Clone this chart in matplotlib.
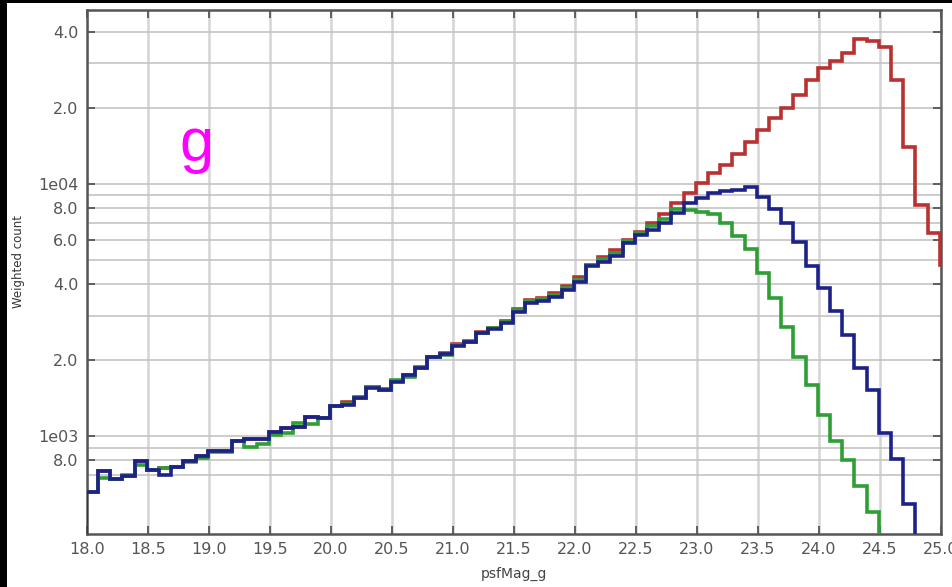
import numpy as np
import matplotlib
matplotlib.use("Agg")
import matplotlib.pyplot as plt
from matplotlib.patches import Rectangle
from matplotlib.ticker import NullFormatter

# weighted counts per 0.1 mag bin, starting at 17.99
red = [601, 727, 673, 696, 798, 733, 747, 751, 798, 835,
       872, 872, 958, 973, 973, 1037, 1073, 1089, 1193, 1182,
       1320, 1367, 1425, 1560, 1530, 1655, 1750, 1870, 2060, 2125,
       2317, 2380, 2580, 2690, 2850, 3180, 3460, 3530, 3680, 3920,
       4250, 4760, 5110, 5460, 5990, 6450, 7000, 7590, 8360, 9210,
       10050, 10990, 11800, 13130, 14650, 16320, 18160, 19890, 22330, 25770,
       28670, 30450, 32850, 37300, 36800, 34600, 25700, 14000, 8240, 6350,
       4760]
green = [601, 680, 675, 700, 768, 733, 747, 755, 790, 818,
         868, 868, 958, 907, 929, 1009, 1030, 1123, 1116, 1175,
         1310, 1340, 1418, 1560, 1521, 1660, 1720, 1855, 2050, 2100,
         2290, 2366, 2555, 2670, 2830, 3150, 3420, 3480, 3610, 3840,
         4150, 4740, 5010, 5310, 5900, 6350, 6780, 7270, 7930, 7870,
         7730, 7590, 7000, 6210, 5500, 4440, 3515, 2713, 2060, 1593,
         1211, 958, 803, 634, 498, 300, 150, 80, 40, 20,
         10]
blue = [601, 727, 673, 696, 798, 733, 700, 751, 798, 835,
        872, 872, 958, 973, 973, 1037, 1073, 1089, 1193, 1182,
        1315, 1327, 1418, 1546, 1521, 1641, 1745, 1855, 2050, 2114,
        2274, 2366, 2555, 2651, 2810, 3111, 3377, 3437, 3566, 3790,
        4090, 4720, 4910, 5170, 5810, 6240, 6550, 6970, 7640, 8360,
        8750, 9200, 9350, 9440, 9680, 8880, 7910, 7000, 5890, 4720,
        3850, 3130, 2510, 1855, 1522, 1025, 811, 536, 300, 150,
        80]

xticks = [18.0, 18.5, 19.0, 19.5, 20.0, 20.5, 21.0, 21.5, 22.0, 22.5,
          23.0, 23.5, 24.0, 24.5, 25.0]
yticks = [800, 1000, 2000, 4000, 6000, 8000, 10000, 20000, 40000]
ylabels = ["8.0", "1e03", "2.0", "4.0", "6.0", "8.0", "1e04", "2.0", "4.0"]
yminor = [700, 900, 3000, 5000, 7000, 9000, 30000]

edges = 17.99 + 0.1 * np.arange(len(blue) + 1)

fig = plt.figure(figsize=(9.53, 5.87), dpi=100)
fig.patch.set_facecolor("black")
fig.patches.append(Rectangle((7 / 953, 0), 1, 1 - 3 / 587, transform=fig.transFigure,
                             facecolor="white", edgecolor="none", zorder=-5))

ax = fig.add_axes([87 / 953, 1 - 534 / 587, 854 / 953, 524 / 587])
ax.set_facecolor("white")

ax.stairs(red, edges, color="#b83232", lw=2.6, zorder=3)
ax.stairs(green, edges, color="#2f9e35", lw=2.6, zorder=4)
ax.stairs(blue, edges, color="#1c2288", lw=2.6, zorder=5)

ax.set_yscale("log")
ax.set_xlim(18.0, 25.0)
ax.set_ylim(409, 48700)

ax.set_xticks(xticks, ["%.1f" % v for v in xticks])
ax.set_yticks(yticks, ylabels)
ax.set_yticks(yminor, minor=True)
ax.yaxis.set_minor_formatter(NullFormatter())

ax.grid(True, axis="x", color="#d4d4d4", lw=1.8, zorder=1)
ax.grid(True, axis="y", which="both", color="#c4c4c4", lw=1.2, zorder=1)

ax.tick_params(which="major", direction="in", length=6, width=1.3, color="#555555",
               top=True, right=True, labelsize=11.5, labelcolor="#555555", pad=6)
ax.tick_params(which="minor", length=0)
for s in ax.spines.values():
    s.set_color("#555555")
    s.set_linewidth(1.8)

ax.set_xlabel("psfMag_g", fontsize=10, color="#444444", labelpad=7)
fig.text(19 / 953, 1 - 262 / 587, "Weighted count", rotation=90, fontsize=8.5,
         color="#333333", ha="center", va="center")

fig.text(196 / 953, 1 - 161 / 587, "g", fontsize=44, color="#ff00ff",
         family="Liberation Sans", ha="center", va="baseline")

fig.savefig("out.png", dpi=100, facecolor=fig.get_facecolor())
